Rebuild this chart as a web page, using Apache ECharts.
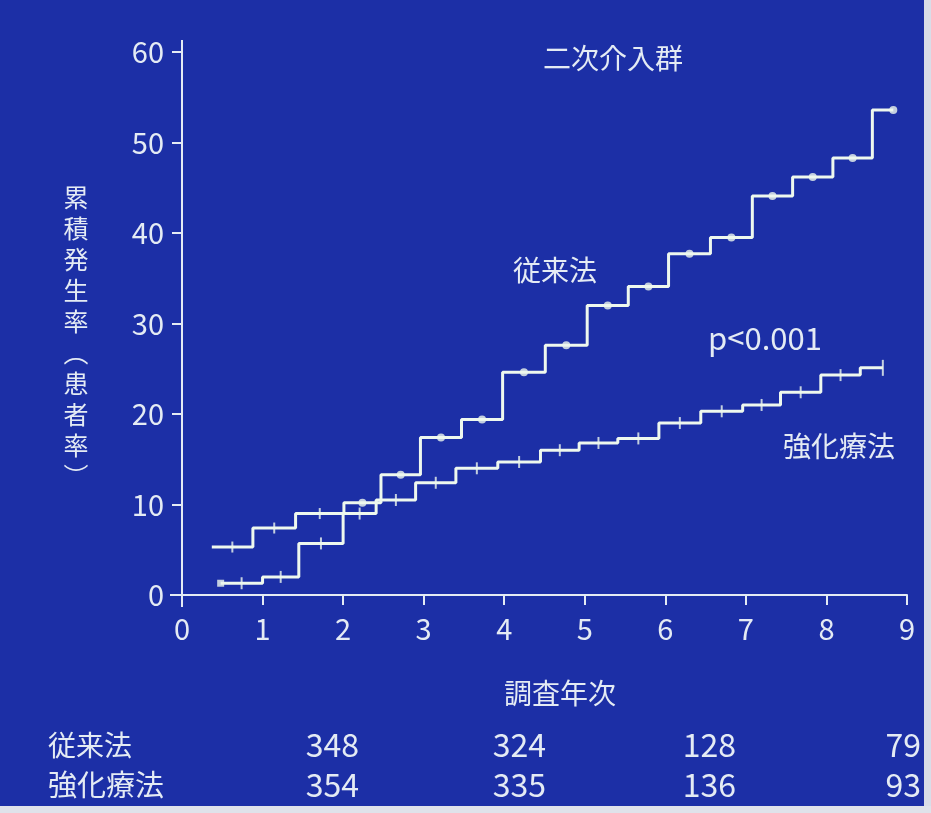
<!DOCTYPE html>
<html><head><meta charset="utf-8">
<script src="https://cdn.jsdelivr.net/npm/echarts@6/dist/echarts.min.js"></script>
<style>html,body{margin:0;padding:0;background:#1c2fa6;}#c{width:931px;height:813px;}</style>
</head><body><div id="c"></div>
<script>
// ---- data ----
var title = '二次介入群';
var yAxisName = ['累','積','発','生','率','︵','患','者','率','︶'];
var xAxisName = '調査年次';
var seriesNames = ['従来法', '強化療法'];
var pLabel = 'p<0.001';
// step change points (year, cumulative %)
var convX = [0.37, 0.88, 1.41, 2.01, 2.47, 2.96, 3.47, 3.98, 4.51, 5.03, 5.54, 6.04, 6.56, 7.08, 7.58, 8.08, 8.57, 8.83];
var convY = [5.3, 7.4, 9.0, 10.2, 13.3, 17.4, 19.4, 24.6, 27.6, 32.0, 34.1, 37.7, 39.5, 44.1, 46.2, 48.3, 53.6, 53.6];
var intX = [0.48, 1.0, 1.45, 2.0, 2.41, 2.90, 3.40, 3.92, 4.45, 4.93, 5.41, 5.92, 6.44, 6.96, 7.43, 7.93, 8.42, 8.70];
var intY = [1.3, 2.0, 5.7, 9.0, 10.5, 12.4, 14.0, 14.7, 16.0, 16.8, 17.3, 19.0, 20.3, 21.0, 22.4, 24.3, 25.1, 25.1];
var xTicks = [0,1,2,3,4,5,6,7,8,9];
var yTicks = [0,10,20,30,40,50,60];
var tableConv = ['348', '324', '128', '79'];
var tableInt = ['354', '335', '136', '93'];

// ---- style ----
var FG = '#e4ebf4';
var LINE = '#eef8ee';
var FONT = '"Noto Sans CJK JP", "Noto Sans", sans-serif';

function pairs(xs, ys){ return xs.map(function(x,i){ return [x, ys[i]]; }); }
// censor marks: middle of each step (except the short final one) plus the end point
function mids(xs, ys){
  var out = [];
  for (var i = 0; i < xs.length - 2; i++) out.push([(xs[i] + xs[i+1]) / 2, ys[i]]);
  out.push([xs[xs.length-1], ys[ys.length-1]]);
  return out;
}
var convMarks = mids(convX, convY).map(function(p, i){
  return i < 3 ? {value: p, symbol: 'rect', symbolSize: [2, 11]} : {value: p};
});
var intMarks = mids(intX, intY).map(function(p, i, a){
  return i === a.length - 1 ? {value: p, symbolSize: [2, 16]} : {value: p};
});
intMarks.unshift({value: [intX[0], intY[0]], symbol: 'rect', symbolSize: [7, 7]});

var chart = echarts.init(document.getElementById('c'), null, {renderer: 'canvas'});
var option = {
  backgroundColor: '#1c2fa6',
  animation: false,
  grid: {left: 182, right: 24, top: 52, bottom: 218},
  xAxis: {
    type: 'value', min: 0, max: 9, interval: 1,
    axisLine: {show: true, onZero: false, lineStyle: {color: FG, width: 2}},
    axisTick: {show: true, inside: false, length: 10, lineStyle: {color: FG, width: 2}},
    axisLabel: {color: FG, fontSize: 29, fontFamily: FONT, margin: 19},
    splitLine: {show: false}
  },
  yAxis: {
    type: 'value', min: 0, max: 60, interval: 10,
    axisLine: {show: true, lineStyle: {color: FG, width: 2}},
    axisTick: {show: true, inside: false, length: 10, lineStyle: {color: FG, width: 2}},
    axisLabel: {color: FG, fontSize: 29, fontFamily: FONT, margin: 18},
    splitLine: {show: false}
  },
  series: [
    {name: seriesNames[0], type: 'line', step: 'end', data: pairs(convX, convY),
     showSymbol: false, lineStyle: {color: LINE, width: 3}},
    {name: seriesNames[1], type: 'line', step: 'end', data: pairs(intX, intY),
     showSymbol: false, lineStyle: {color: LINE, width: 3}},
    {type: 'scatter', data: convMarks, symbol: 'circle', symbolSize: 8,
     itemStyle: {color: LINE}},
    {type: 'scatter', data: intMarks, symbol: 'rect', symbolSize: [2, 12],
     itemStyle: {color: LINE}}
  ]
};
chart.setOption(option);

var g = [];
var ax0 = chart.convertToPixel({gridIndex: 0}, [0, 0]);
var ax9 = chart.convertToPixel({gridIndex: 0}, [9, 60]);
// axis line overhangs
g.push({type: 'line', shape: {x1: ax0[0], y1: ax9[1] - 12, x2: ax0[0], y2: ax9[1]}, style: {stroke: FG, lineWidth: 2}});
g.push({type: 'line', shape: {x1: ax0[0], y1: ax0[1], x2: ax0[0], y2: ax0[1] + 12}, style: {stroke: FG, lineWidth: 2}});
g.push({type: 'line', shape: {x1: ax0[0] - 12, y1: ax0[1], x2: ax0[0], y2: ax0[1]}, style: {stroke: FG, lineWidth: 2}});
function txt(s, x, y, align, size){
  g.push({type: 'text', x: x, y: y, style: {text: s, fill: FG, font: (size || 28) + 'px ' + FONT,
    textAlign: align || 'center', textVerticalAlign: 'middle'}});
}
txt(title, 613, 58);
txt(seriesNames[0], 555, 270);
txt(pLabel, 765, 338, 'center', 31);
txt(seriesNames[1], 839, 446);
g.push({type: 'text', x: 76, y: 337, style: {text: yAxisName.join('\n'), fill: FG,
  font: '25px ' + FONT, lineHeight: 31, textAlign: 'center', textVerticalAlign: 'middle'}});
txt(xAxisName, 560, 693);
txt(seriesNames[0], 48, 745, 'left', 28);
txt(seriesNames[1], 48, 785, 'left', 29);
var colX = [359, 546, 736, 921];
tableConv.forEach(function(v, i){ txt(v, colX[i], 745, 'right', 32); });
tableInt.forEach(function(v, i){ txt(v, colX[i], 785, 'right', 32); });
// scan edges
g.push({type: 'rect', shape: {x: 924, y: 0, width: 7, height: 813}, style: {fill: '#d9dde8'}});
g.push({type: 'rect', shape: {x: 0, y: 806, width: 931, height: 7}, style: {fill: '#dfe2ea'}});
chart.setOption({graphic: g});
</script></body></html>
